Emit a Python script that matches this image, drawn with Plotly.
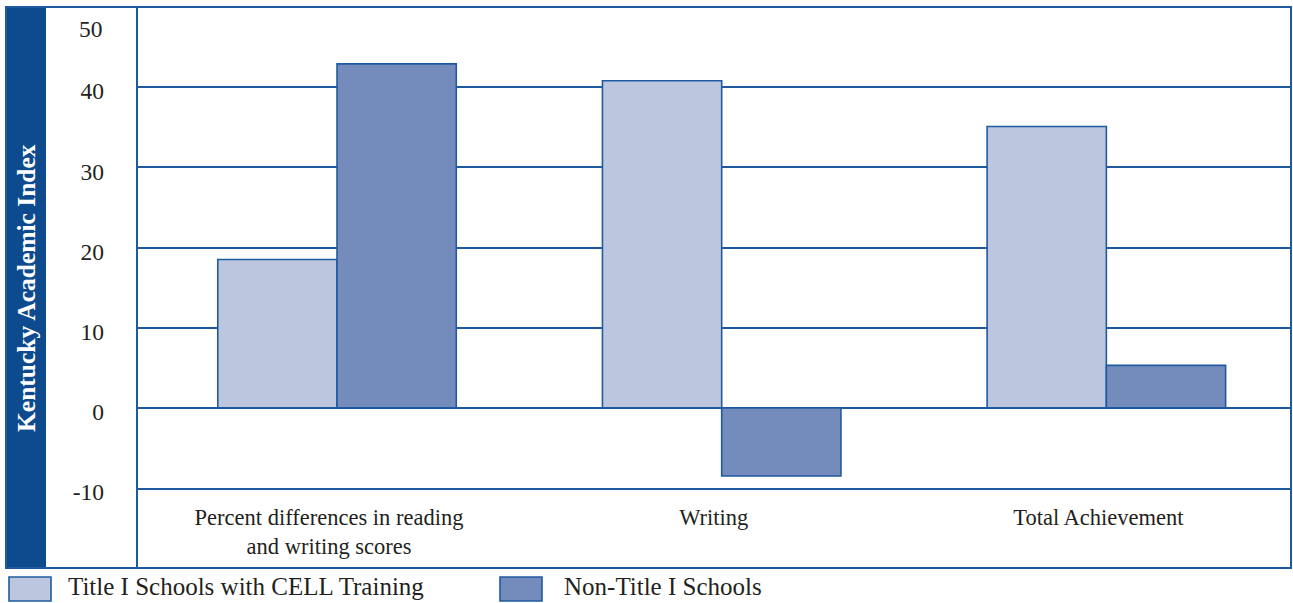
import plotly.graph_objects as go

# ---- data ----
categories = ["Percent differences in reading<br>and writing scores", "Writing", "Total Achievement"]
series_names = ["Title I Schools with CELL Training", "Non-Title I Schools"]
title_one_cell = [18.5, 40.8, 35.1]
non_title_one = [42.9, -8.5, 5.3]
y_tick_vals = [-10, 0, 10, 20, 30, 40]
y_tick_text = ["-10", "0", "10", "20", "30", "40"]
y_top_val, y_top_text = 50, "50"
y_title = "Kentucky Academic Index"

# ---- styling ----
W, H = 1293, 603
PL, PR, PT, PB = 137, 1291, 7, 488  # plot area in pixels
FONT = "Liberation Serif"
TEXT = "#231f20"
BLUE = "#1f5aa0"
BAND = "#0d4b8e"
C_LIGHT = "#bcc6de"
C_DARK = "#748cbc"


def px(x):
    return (x - PL) / (PR - PL)


def py(y):
    return (PB - y) / (PB - PT)


fig = go.Figure()
for name, vals, col in [(series_names[0], title_one_cell, C_LIGHT),
                        (series_names[1], non_title_one, C_DARK)]:
    fig.add_trace(go.Bar(
        x=categories, y=vals, name=name, showlegend=False,
        marker=dict(color=col, line=dict(color=BLUE, width=1.6)),
    ))

shapes = []
# dark band behind the axis title
shapes.append(dict(type="rect", xref="paper", yref="paper",
                   x0=px(6), x1=px(46), y0=py(568), y1=py(7),
                   fillcolor=BAND, line=dict(width=0), layer="below"))
# outer frame
shapes.append(dict(type="rect", xref="paper", yref="paper",
                   x0=px(6), x1=px(1291), y0=py(568), y1=py(7),
                   fillcolor="rgba(0,0,0,0)", line=dict(color=BLUE, width=2)))
# vertical divider extended down to the frame bottom
shapes.append(dict(type="line", xref="paper", yref="paper",
                   x0=0, x1=0, y0=py(568), y1=py(7),
                   line=dict(color=BLUE, width=2)))

annotations = [dict(
    text="<b>" + y_title + "</b>", xref="paper", yref="paper",
    x=px(26), y=py(288), textangle=-90, showarrow=False,
    font=dict(family=FONT, size=25.5, color="white"),
    xanchor="center", yanchor="middle",
)]
# top tick label (sits just under the frame line)
annotations.append(dict(
    text=y_top_text, xref="paper", yref="y", x=px(91), y=y_top_val,
    showarrow=False, xanchor="center", yanchor="top", yshift=-7,
    font=dict(family=FONT, size=23.5, color=TEXT),
))

# legend drawn at the bottom
legend_swatch_x = [(9, 51), (500, 542)]
legend_text_x = [66, 562]
for name, col, (sx0, sx1), tx in zip(series_names, [C_LIGHT, C_DARK], legend_swatch_x, legend_text_x):
    shapes.append(dict(type="rect", xref="paper", yref="paper",
                       x0=px(sx0), x1=px(sx1), y0=py(601), y1=py(577),
                       fillcolor=col, line=dict(color=BLUE, width=1.6)))
    annotations.append(dict(text=name, xref="paper", yref="paper",
                            x=px(tx), y=py(586.5), showarrow=False,
                            xanchor="left", yanchor="middle",
                            font=dict(family=FONT, size=25, color=TEXT)))

fig.update_layout(
    width=W, height=H,
    margin=dict(l=PL, r=W - PR, t=PT, b=H - PB, pad=0, autoexpand=False),
    paper_bgcolor="white", plot_bgcolor="white",
    barmode="group", bargap=0.38, bargroupgap=0,
    font=dict(family=FONT, color=TEXT),
    shapes=shapes, annotations=annotations,
    xaxis=dict(
        range=[-0.52, 2.48], automargin=False,
        showgrid=False, showline=True, linecolor=BLUE, linewidth=2,
        ticks="", ticklabelstandoff=8, ticklabelshift=-8,
        tickfont=dict(family=FONT, size=22.5, color=TEXT),
        fixedrange=True,
    ),
    yaxis=dict(
        range=[-10, 50], tickvals=y_tick_vals, ticktext=y_tick_text,
        automargin=False,
        showgrid=True, gridcolor=BLUE, gridwidth=2,
        zeroline=False, showline=False,
        ticks="", ticklabelstandoff=32, ticklabelshift=4,
        tickfont=dict(family=FONT, size=23.5, color=TEXT),
        fixedrange=True,
    ),
)

fig.write_html("out.html")
